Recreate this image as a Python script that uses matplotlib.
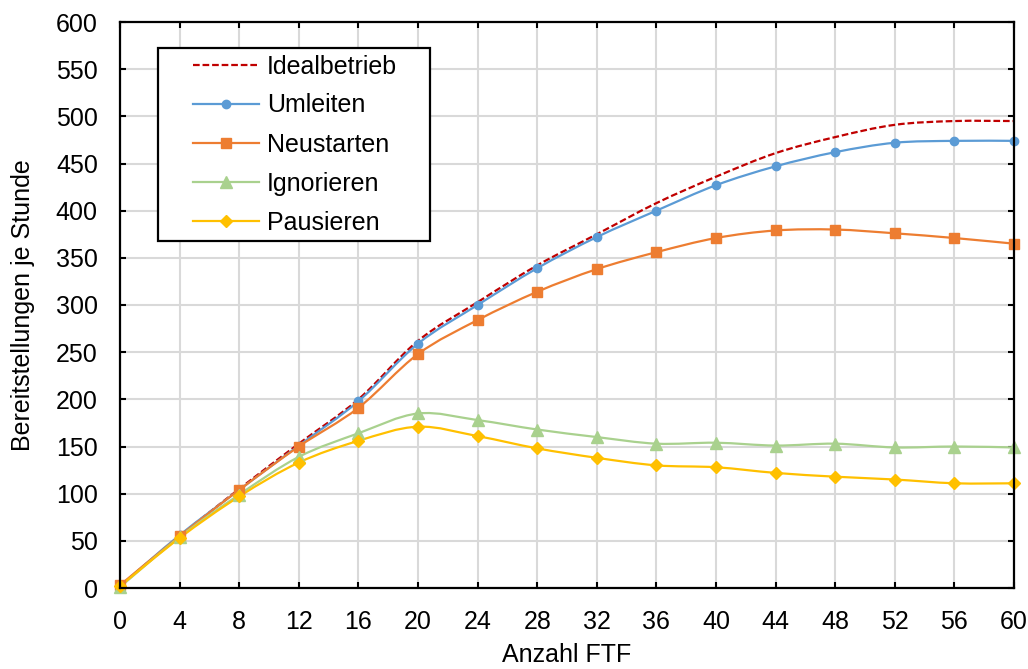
import numpy as np
import matplotlib
matplotlib.use("Agg")
import matplotlib.pyplot as plt
from matplotlib.path import Path
from matplotlib.patches import PathPatch, Rectangle
from matplotlib.lines import Line2D

plt.rcParams['font.family'] = ['Liberation Sans', 'DejaVu Sans']

# Anzahl FTF
ftf = [0, 4, 8, 12, 16, 20, 24, 28, 32, 36, 40, 44, 48, 52, 56, 60]

idealbetrieb = [2, 55, 105, 153, 200, 262, 303, 342, 375, 408, 436, 461, 478, 491, 495, 495]
umleiten     = [2, 56, 104, 151, 198, 259, 300, 339, 372, 400, 427, 447, 462, 472, 474, 474]
neustarten   = [3, 55, 104, 150, 191, 248, 284, 314, 338, 356, 371, 379, 380, 376, 371, 365]
ignorieren   = [1, 54, 99, 139, 164, 185, 178, 168, 160, 153, 154, 151, 153, 149, 150, 149]
pausieren    = [2, 53, 97, 133, 156, 171, 161, 148, 138, 130, 128, 122, 118, 115, 111, 111]

series = [
    ("Idealbetrieb", idealbetrieb, dict(color="#C00000", ls=(0, (3.0, 1.3)), marker=None, ms=0)),
    ("Umleiten", umleiten, dict(color="#5B9BD5", ls="-", marker="o", ms=6)),
    ("Neustarten", neustarten, dict(color="#ED7D31", ls="-", marker="s", ms=7)),
    ("Ignorieren", ignorieren, dict(color="#A9D18E", ls="-", marker="^", ms=8.5)),
    ("Pausieren", pausieren, dict(color="#FFC000", ls="-", marker="D", ms=6.5)),
]


def smooth_path(x, y, t=1.0 / 6.0):
    """Cubic Bezier path through the points (Catmull-Rom style smoothing)."""
    x = np.asarray(x, float)
    y = np.asarray(y, float)
    n = len(x)
    verts = [(x[0], y[0])]
    codes = [Path.MOVETO]
    for i in range(n - 1):
        p0 = np.array([x[max(i - 1, 0)], y[max(i - 1, 0)]])
        p1 = np.array([x[i], y[i]])
        p2 = np.array([x[i + 1], y[i + 1]])
        p3 = np.array([x[min(i + 2, n - 1)], y[min(i + 2, n - 1)]])
        c1 = p1 + (p2 - p0) * t
        c2 = p2 - (p3 - p1) * t
        verts += [tuple(c1), tuple(c2), tuple(p2)]
        codes += [Path.CURVE4] * 3
    return Path(verts, codes)


W, H = 1028, 669
AX_L, AX_R, AX_T, AX_B = 120, 1014, 22, 588
fig = plt.figure(figsize=(W / 100, H / 100), dpi=100)
ax = fig.add_axes([AX_L / W, 1 - AX_B / H, (AX_R - AX_L) / W, (AX_B - AX_T) / H])


def ax_xy(px, py):
    return (px - AX_L) / (AX_R - AX_L), 1 - (py - AX_T) / (AX_B - AX_T)


FS = 18
lw = 1.6
handles = []
for name, vals, st in series:
    patch = PathPatch(smooth_path(ftf, vals), facecolor="none", edgecolor=st["color"],
                      lw=lw, linestyle=st["ls"], zorder=3, capstyle="butt")
    ax.add_patch(patch)
    if st["marker"]:
        ax.plot(ftf, vals, linestyle="none", marker=st["marker"], ms=st["ms"],
                color=st["color"], mec=st["color"], zorder=4, clip_on=False)
    handles.append(Line2D([0], [0], color=st["color"], lw=lw, linestyle=st["ls"],
                          marker=st["marker"], ms=st["ms"], mec=st["color"]))

ax.set_xlim(0, 60)
ax.set_ylim(0, 600)
ax.set_xticks(range(0, 61, 4))
ax.set_yticks(range(0, 601, 50))
ax.grid(True, color="#D9D9D9", lw=1.5, zorder=0)
ax.set_axisbelow(True)
for sp in ax.spines.values():
    sp.set_linewidth(1.6)
    sp.set_color("black")
    sp.set_zorder(5)
ax.tick_params(direction="in", length=4.5, width=1.5, top=True, right=True,
               labelsize=FS, pad=16)

ax.set_xlabel("Anzahl FTF", fontsize=FS, labelpad=6)
ax.set_ylabel("Bereitstellungen je Stunde", fontsize=FS, labelpad=15)

# legend frame
x0, y1 = ax_xy(158, 48)
x1, y0 = ax_xy(430, 241)
frame = Rectangle((x0, y0), x1 - x0, y1 - y0, transform=ax.transAxes,
                  facecolor="white", edgecolor="black", lw=1.6, zorder=6)
ax.add_patch(frame)

lx, ly = ax_xy(193, 54.5)
leg = ax.legend(handles, [s[0] for s in series], loc="upper left",
                bbox_to_anchor=(lx, ly), fontsize=FS, frameon=False,
                handlelength=2.65, handletextpad=0.3, labelspacing=0.6,
                borderpad=0, borderaxespad=0)
leg.set_zorder(7)

fig.savefig("out.png", dpi=100, facecolor="white")
